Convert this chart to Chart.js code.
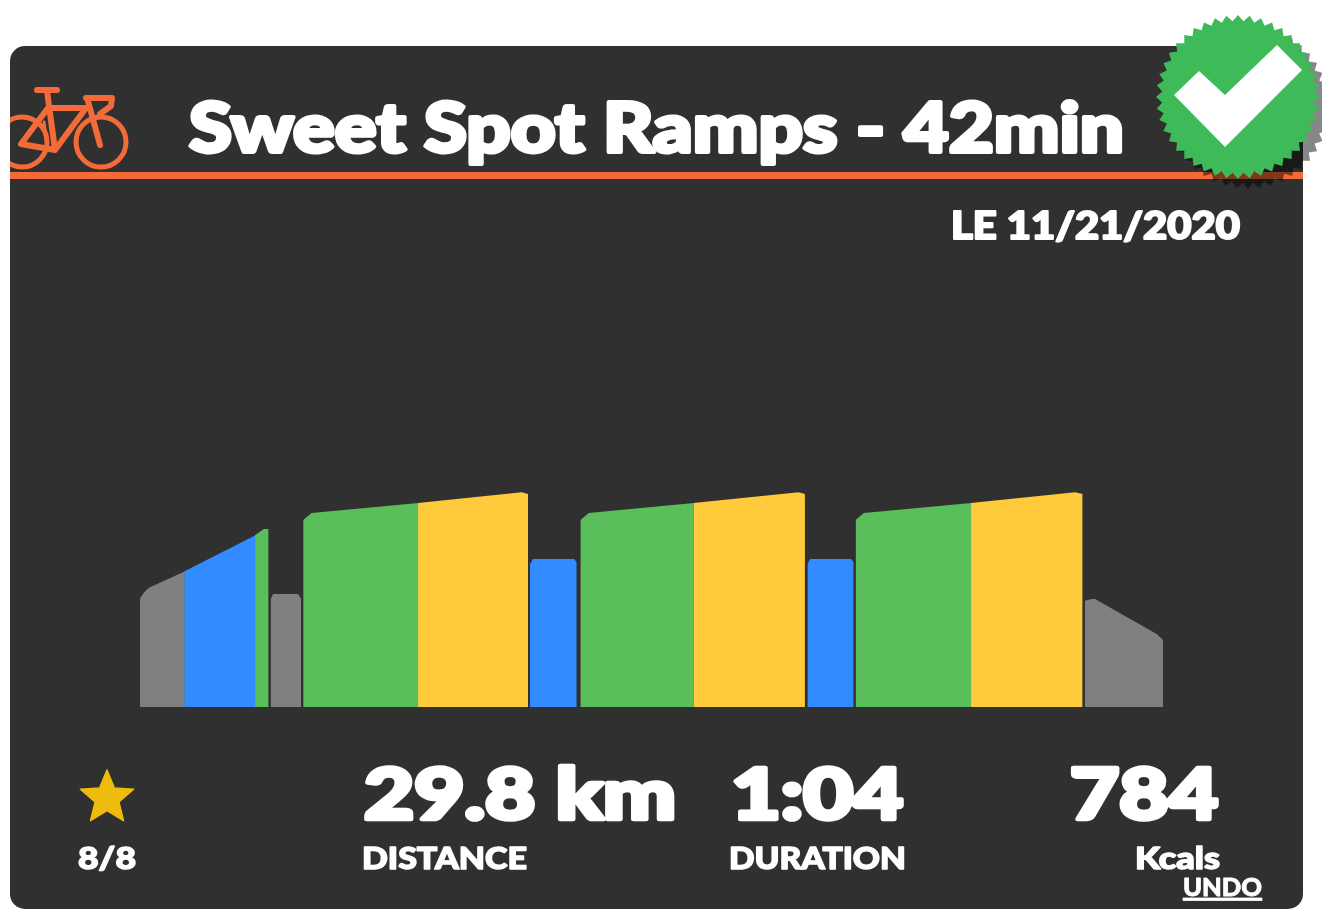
<!DOCTYPE html>
<html>
<head>
<meta charset="utf-8">
<title>Sweet Spot Ramps - 42min</title>
<script src="https://cdn.jsdelivr.net/npm/chart.js@4"></script>
<style>
  html, body { margin: 0; padding: 0; background: #fff; overflow: hidden; }
  #page { position: relative; width: 1322px; height: 909px; overflow: hidden; }
  #card { position: absolute; left: 10px; top: 46px; width: 1293px; height: 863px; background: #303030; border-radius: 15px; }
  #art, #labels { position: absolute; left: 0; top: 0; }
  #workout { position: absolute; left: 140px; top: 481px; }
  text { font-family: Lato, sans-serif; font-weight: 900; fill: #fff; stroke: #fff; stroke-linejoin: round; }
</style>
</head>
<body>
<div id="page">
  <div id="card"></div>
  <svg id="art" width="1322" height="909">
    <defs><clipPath id="cardClip"><rect x="10" y="46" width="1293" height="863" rx="15"/></clipPath></defs>
    <rect x="10" y="172" width="1293" height="7" fill="#f26b38"/>
    <g clip-path="url(#cardClip)" fill="none" stroke="#f26b38" stroke-width="5" stroke-linecap="round" stroke-linejoin="round">
      <circle cx="101" cy="142" r="25"/>
      <circle cx="22" cy="142" r="25"/>
      <path stroke-width="6" d="M37 90H57M47 91L55 150L21 144L48 108H86L55 150M88 101L100 145M86 98H112L111 106L100 114"/>
      <path d="M44 122L47 146" stroke-width="3"/>
    </g>
    <polygon id="badgeShadow" fill="#000" fill-opacity="0.47"/>
    <polygon id="badge" fill="#3fba58"/>
    <polygon points="1174,95 1199,71 1225,95 1277,45 1302,70 1225,147" fill="#fff"/>
    <polygon id="star" fill="#eebc0d" stroke="#eebc0d" stroke-width="1.5" stroke-linejoin="round"/>
  </svg>
  <canvas id="workout" width="1023" height="226"></canvas>
  <svg id="labels" width="1322" height="909">
    <text x="189" y="152" font-size="69" stroke-width="4" textLength="935" lengthAdjust="spacingAndGlyphs">Sweet Spot Ramps - 42min</text>
    <text x="951" y="239" font-size="37" stroke-width="2" textLength="289" lengthAdjust="spacingAndGlyphs">LE 11/21/2020</text>
    <text x="364" y="819" font-size="70" stroke-width="4.5" textLength="312" lengthAdjust="spacingAndGlyphs">29.8 km</text>
    <text x="731" y="819" font-size="70" stroke-width="4.5" textLength="172" lengthAdjust="spacingAndGlyphs">1:04</text>
    <text x="1070" y="819" font-size="70" stroke-width="4.5" textLength="148" lengthAdjust="spacingAndGlyphs">784</text>
    <text x="78" y="869" font-size="30" stroke-width="1.4" textLength="58" lengthAdjust="spacingAndGlyphs">8/8</text>
    <text x="362" y="869" font-size="30" stroke-width="1.4" textLength="165" lengthAdjust="spacingAndGlyphs">DISTANCE</text>
    <text x="729" y="869" font-size="30" stroke-width="1.4" textLength="177" lengthAdjust="spacingAndGlyphs">DURATION</text>
    <text x="1135" y="869" font-size="30" stroke-width="1.4" textLength="85" lengthAdjust="spacingAndGlyphs">Kcals</text>
    <text x="1183" y="896" font-size="25" stroke-width="0.8" textLength="79" lengthAdjust="spacingAndGlyphs" style="text-decoration: underline">UNDO</text>
  </svg>
</div>
<script>
  // workout profile: minutes and % FTP
  const warmupMin = [0, 0.12, 0.29, 0.41, 1.83];
  const warmupFtp = [48, 50, 52, 53, 60];
  const rampBlueMin = [1.81, 4.74];
  const rampBlueFtp = [60, 76];
  const rampGreenMin = [4.72, 5.09, 5.28];
  const rampGreenFtp = [76, 78.8, 78.8];
  const easyMin = [5.36, 5.46, 6.49, 6.61];
  const easyFtp = [47.5, 50, 50, 48];
  const work1GreenMin = [6.70, 7.05, 11.43];
  const work1YellowMin = [11.41, 15.67, 15.93];
  const rest1Min = [16.01, 16.13, 17.82, 17.93];
  const work2GreenMin = [18.08, 18.42, 22.74];
  const work2YellowMin = [22.72, 27.04, 27.30];
  const rest2Min = [27.40, 27.51, 29.19, 29.30];
  const work3GreenMin = [29.38, 29.72, 34.13];
  const work3YellowMin = [34.11, 38.39, 38.70];
  const cooldownMin = [38.79, 39.07, 39.21, 41.74, 42];
  const cooldownFtp = [47, 47.8, 47.8, 32.3, 29.6];
  const workGreenFtp = [82.7, 85.8, 90.3];
  const workYellowFtp = [90.3, 95, 94.3];
  const restFtp = [63, 65.5, 65.5, 64];

  const GRAY = '#808080', BLUE = '#338cff', GREEN = '#5abf5a', YELLOW = '#ffca3c';

  function block(label, mins, ftp, color) {
    return {
      label,
      data: mins.map((m, i) => ({ x: m, y: ftp[i] })),
      backgroundColor: color,
      borderWidth: 0,
      pointRadius: 0,
      tension: 0,
      fill: 'origin'
    };
  }

  new Chart(document.getElementById('workout').getContext('2d'), {
    type: 'line',
    data: {
      datasets: [
        block('Warm up', warmupMin, warmupFtp, GRAY),
        block('Ramp Z2', rampBlueMin, rampBlueFtp, BLUE),
        block('Ramp Z3', rampGreenMin, rampGreenFtp, GREEN),
        block('Easy', easyMin, easyFtp, GRAY),
        block('Work 1 Z3', work1GreenMin, workGreenFtp, GREEN),
        block('Work 1 Z4', work1YellowMin, workYellowFtp, YELLOW),
        block('Rest 1', rest1Min, restFtp, BLUE),
        block('Work 2 Z3', work2GreenMin, workGreenFtp, GREEN),
        block('Work 2 Z4', work2YellowMin, workYellowFtp, YELLOW),
        block('Rest 2', rest2Min, restFtp, BLUE),
        block('Work 3 Z3', work3GreenMin, workGreenFtp, GREEN),
        block('Work 3 Z4', work3YellowMin, workYellowFtp, YELLOW),
        block('Cool down', cooldownMin, cooldownFtp, GRAY)
      ]
    },
    options: {
      responsive: false,
      animation: false,
      devicePixelRatio: 1,
      layout: { padding: 0 },
      plugins: { legend: { display: false }, title: { display: false }, tooltip: { enabled: false } },
      scales: {
        x: { type: 'linear', min: 0, max: 42, display: false },
        y: { min: 0, max: 100, display: false }
      }
    }
  });

  // badge and star outlines
  function spiky(cx, cy, outer, inner, n, rot) {
    const pts = [];
    for (let i = 0; i < n * 2; i++) {
      const r = i % 2 ? inner : outer, a = rot + i * Math.PI / n;
      pts.push((cx + r * Math.sin(a)).toFixed(1) + ',' + (cy - r * Math.cos(a)).toFixed(1));
    }
    return pts.join(' ');
  }
  document.getElementById('badge').setAttribute('points', spiky(1238, 97, 82, 76, 44, 0));
  document.getElementById('badgeShadow').setAttribute('points', spiky(1248, 107, 82, 76, 44, 0));
  document.getElementById('star').setAttribute('points', spiky(107, 798, 28, 12.5, 5, 0));
</script>
</body>
</html>
